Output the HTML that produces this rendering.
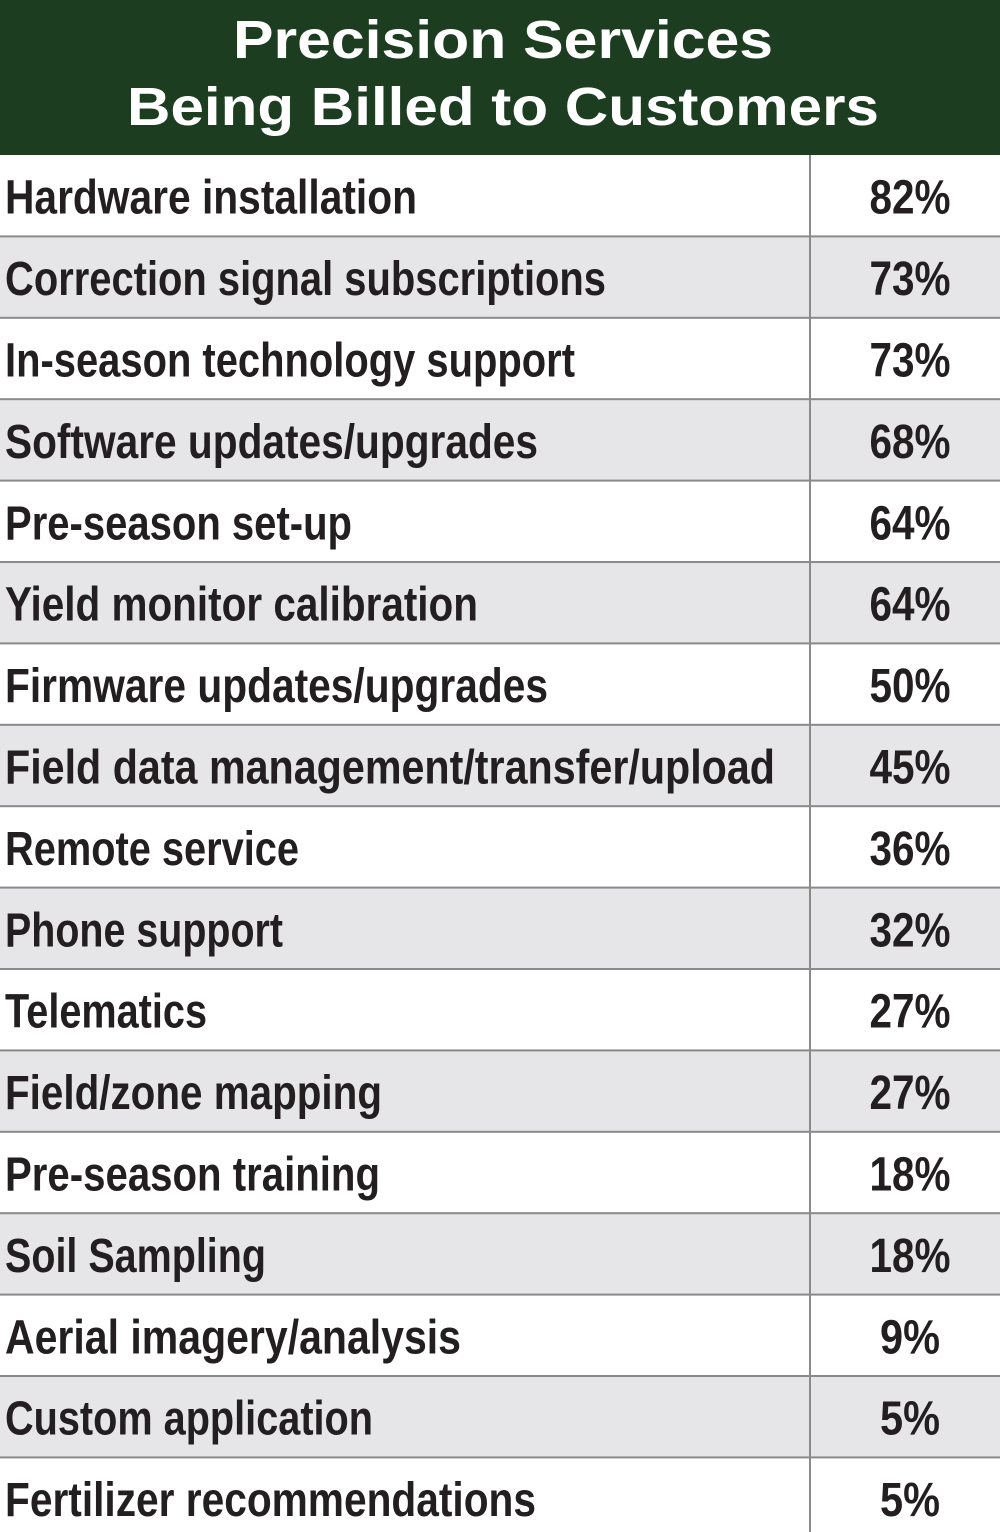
<!DOCTYPE html>
<html><head><meta charset="utf-8"><style>
html,body{margin:0;padding:0;background:#fff}
svg{display:block}
</style></head><body>
<svg width="1000" height="1532" xmlns="http://www.w3.org/2000/svg" font-family="Liberation Sans, sans-serif" font-weight="bold">
<rect x="0" y="0" width="1000" height="155" fill="#1c3d20"/>
<text x="503" y="58" fill="#fff" font-size="54" text-anchor="middle" textLength="540" lengthAdjust="spacingAndGlyphs">Precision Services</text>
<text x="503" y="125" fill="#fff" font-size="54" text-anchor="middle" textLength="752" lengthAdjust="spacingAndGlyphs">Being Billed to Customers</text>
<g id="rows"></g>
</svg>
<script>
var d=[["Hardware installation",417,"82%"],["Correction signal subscriptions",606,"73%"],["In-season technology support",575,"73%"],["Software updates/upgrades",538,"68%"],["Pre-season set-up",352,"64%"],["Yield monitor calibration",478,"64%"],["Firmware updates/upgrades",548,"50%"],["Field data management/transfer/upload",775,"45%"],["Remote service",299,"36%"],["Phone support",283,"32%"],["Telematics",207,"27%"],["Field/zone mapping",382,"27%"],["Pre-season training",380,"18%"],["Soil Sampling",266,"18%"],["Aerial imagery/analysis",461,"9%"],["Custom application",373,"5%"],["Fertilizer recommendations",536,"5%"]];
var s="",h=81.4,t=155;
for(var i=0;i<d.length;i++){var y=t+i*h;
if(i%2)s+='<rect x="0" y="'+y+'" width="1000" height="'+h+'" fill="#e6e6e8"/>';
if(i>0)s+='<rect x="0" y="'+(y-1)+'" width="1000" height="2" fill="#8a8a8a"/>';
var b=y+h/2+18;
s+='<text x="5" y="'+b+'" fill="#231f20" font-size="48" textLength="'+(d[i][1]-5)+'" lengthAdjust="spacingAndGlyphs">'+d[i][0]+'</text>';
var w=d[i][2].length==3?81:60;
s+='<text x="910" y="'+b+'" fill="#231f20" font-size="48" text-anchor="middle" textLength="'+w+'" lengthAdjust="spacingAndGlyphs">'+d[i][2]+'</text>';}
s+='<rect x="809" y="155" width="2" height="1377" fill="#8a8a8a"/>';
document.getElementById("rows").innerHTML=s;
</script>
</body></html>
